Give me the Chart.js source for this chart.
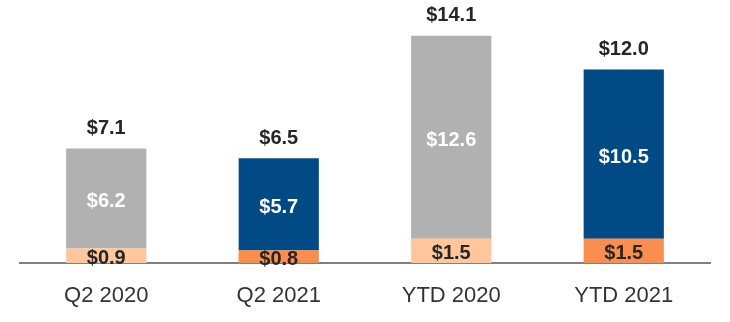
<!DOCTYPE html>
<html>
<head>
<meta charset="utf-8">
<script src="https://cdn.jsdelivr.net/npm/chart.js@4"></script>
<style>
  html, body { margin: 0; padding: 0; background: #fff; }
  #wrap { width: 730px; height: 322px; }
</style>
</head>
<body>
<div id="wrap"><canvas id="chart" width="730" height="322"></canvas></div>
<script>
const categories = ['Q2 2020', 'Q2 2021', 'YTD 2020', 'YTD 2021'];
const baseValues = [0.9, 0.8, 1.5, 1.5];
const topValues = [6.2, 5.7, 12.6, 10.5];
const totals = [7.1, 6.5, 14.1, 12.0];

const baseColors = ['#ffc59b', '#fb8d4f', '#ffc59b', '#fb8d4f'];
const topColors = ['#b1b1b1', '#014a85', '#b1b1b1', '#014a85'];

const fmt = v => '$' + v.toFixed(1);

// draws value labels inside segments and totals on top
const valueLabels = {
    id: 'valueLabels',
    afterDatasetsDraw(chart) {
        const ctx = chart.ctx;
        const y = chart.scales.y;
        ctx.save();
        ctx.font = 'bold 20px "Liberation Sans", Arial, sans-serif';
        ctx.textAlign = 'center';
        ctx.textBaseline = 'middle';
        chart.getDatasetMeta(0).data.forEach((bar, i) => {
            const x = bar.x;
            // bottom segment
            ctx.fillStyle = '#262626';
            ctx.fillText(fmt(baseValues[i]), x, y.getPixelForValue(baseValues[i] / 2) + 3);
            // top segment
            ctx.fillStyle = '#ffffff';
            ctx.fillText(fmt(topValues[i]), x, y.getPixelForValue(baseValues[i] + topValues[i] / 2) + 3);
            // total
            ctx.fillStyle = '#262626';
            ctx.fillText(fmt(totals[i]), x, y.getPixelForValue(baseValues[i] + topValues[i]) - 20);
        });
        ctx.restore();
    }
};

const ctx = document.getElementById('chart').getContext('2d');
new Chart(ctx, {
    type: 'bar',
    data: {
        labels: categories,
        datasets: [
            { data: baseValues, backgroundColor: baseColors, borderWidth: 0 },
            { data: topValues, backgroundColor: topColors, borderWidth: 0 }
        ]
    },
    options: {
        responsive: false,
        animation: false,
        devicePixelRatio: 1,
        layout: { padding: { left: 20, right: 20, top: 5, bottom: 0 } },
        datasets: { bar: { categoryPercentage: 1, barPercentage: 0.465 } },
        plugins: {
            legend: { display: false },
            tooltip: { enabled: false }
        },
        scales: {
            x: {
                stacked: true,
                grid: { display: false, drawTicks: false },
                border: { display: true, color: '#808080', width: 2 },
                ticks: {
                    color: '#333333',
                    padding: 20,
                    maxRotation: 0,
                    font: { family: '"Liberation Sans", Arial, sans-serif', size: 22 }
                },
                afterFit(axis) { axis.height = 59; }
            },
            y: {
                stacked: true,
                display: false,
                min: 0,
                max: 16
            }
        }
    },
    plugins: [valueLabels]
});
</script>
</body>
</html>
